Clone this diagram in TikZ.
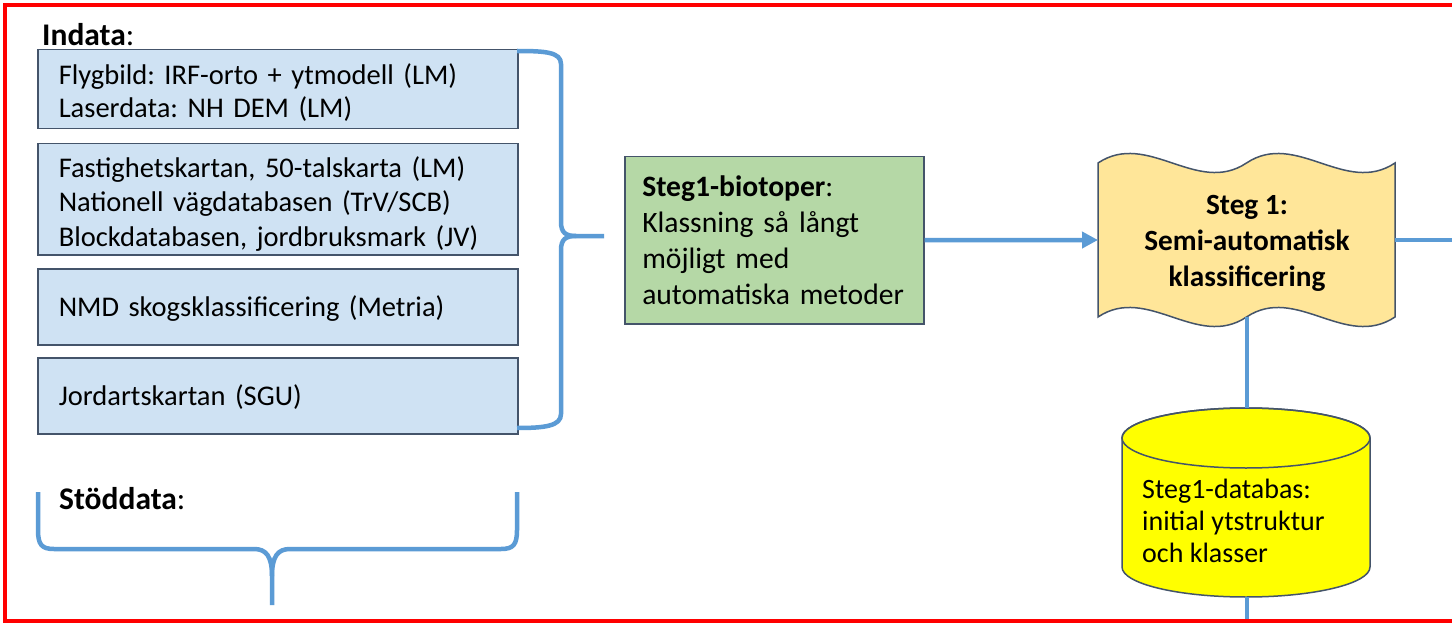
\documentclass[tikz,border=0pt]{standalone}
\usepackage{fontspec}
\setmainfont{Carlito}
\usetikzlibrary{arrows.meta}
\definecolor{bracecol}{HTML}{5B9BD5}
\definecolor{boxfill}{HTML}{CFE2F3}
\definecolor{boxline}{HTML}{44546A}
\definecolor{greenfill}{HTML}{B5D8A6}
\definecolor{wavefill}{HTML}{FFE699}
\definecolor{dbfill}{HTML}{FFFF00}
\definecolor{frame}{HTML}{FF0000}
\frenchspacing
\newcommand{\toppad}{\rule{0pt}{27pt}}
\begin{document}
\begin{tikzpicture}[x=1pt,y=-1pt,
  inbox/.style={draw=boxline, line width=1.5pt, fill=boxfill, anchor=north west,
    minimum width=480pt, text width=438pt, inner xsep=21pt, inner ysep=0pt,
    align=left, font=\fontsize{28.5}{33}\selectfont},
  conn/.style={draw=bracecol, line width=4.5pt},
  bracepath/.style={draw=bracecol, line width=4.5pt, line join=round, line cap=butt},
  label/.style={inner sep=0pt, anchor=base west, font=\fontsize{31.5}{36}\selectfont}
]
\useasboundingbox (0,0) rectangle (1452,623);
\fill[white] (0,0) rectangle (1452,623);

% Indata
\node[label] (indata) at (42,46) {\textbf{Indata}:};
\node[inbox, minimum height=79pt] (b1) at (37,49)
  {\toppad Flygbild: IRF-orto + ytmodell (LM)\\Laserdata: NH DEM (LM)};
\node[inbox, minimum height=111pt, font=\fontsize{28.5}{34.5}\selectfont] (b2) at (37,143)
  {\rule{0pt}{30pt}Fastighetskartan, 50-talskarta (LM)\\Nationell vägdatabasen (TrV/SCB)\\Blockdatabasen, jordbruksmark (JV)};
\node[inbox, minimum height=76pt] (b3) at (37,268)
  {\rule{0pt}{24pt}NMD skogsklassificering (Metria)};
\node[inbox, minimum height=76pt] (b4) at (37,357)
  {\rule{0pt}{23pt}Jordartskartan (SGU)};

% right brace
\coordinate (btip) at (604,236);
\path[bracepath] (517,51) .. controls (545,51) and (561,52) .. (561,64)
  -- (561,222) .. controls (561,233) and (566,236) .. (576,236) -- (btip);
\path[bracepath] (576,236) .. controls (566,236) and (561,239) .. (561,250)
  -- (561,414) .. controls (561,426) and (545,428) .. (517,428);

% Stoddata
\node[label] (stod) at (59,509) {\textbf{Stöddata}:};
\coordinate (stip) at (272,605);
\path[bracepath] (38,492) -- (38,530) .. controls (38,545) and (42,549) .. (54,549)
  -- (254,549) .. controls (266,549) and (272,556) .. (272,576) -- (stip);
\path[bracepath] (517,492) -- (517,530) .. controls (517,545) and (513,549) .. (501,549)
  -- (290,549) .. controls (278,549) and (272,556) .. (272,576);

% green box
\node[draw=boxline, fill=greenfill, line width=1.5pt, anchor=north west,
  minimum width=299pt, minimum height=167pt, text width=264pt, inner xsep=17.5pt,
  inner ysep=0pt, align=left, font=\fontsize{29.6}{36.3}\selectfont] (bio) at (624,156)
  {\textbf{Steg1-biotoper}:\\Klassning så långt\\möjligt med\\automatiska metoder};

% wave shape (double wave)
\filldraw[fill=wavefill, draw=boxline, line width=1.5pt, line join=miter]
  (1098,163) .. controls (1147.5,130) and (1197,196) .. (1246.5,163)
  .. controls (1296,130) and (1345.5,196) .. (1395,163)
  -- (1395,317)
  .. controls (1345.5,350) and (1296,284) .. (1246.5,317)
  .. controls (1197,350) and (1147.5,284) .. (1098,317) -- cycle;
\node[align=center, font=\bfseries\fontsize{29.3}{36}\selectfont, inner sep=0pt] (steg) at (1247,243)
  {Steg 1:\\Semi-automatisk\\klassificering};
\coordinate (wl) at (1098,240);
\coordinate (wr) at (1395,240);
\coordinate (wb) at (1247,317);
\coordinate (rout) at (1470,240);

% cylinder
\filldraw[fill=dbfill, draw=boxline, line width=1.5pt]
  (1122,438) -- (1122,567) arc[start angle=180, end angle=0, x radius=124, y radius=30]
  -- (1370,438) arc[start angle=360, end angle=180, x radius=124, y radius=30] -- cycle;
\draw[boxline, line width=1.5pt] (1246,438) ellipse [x radius=124, y radius=30];
\coordinate (dbtop) at (1247,408);
\coordinate (dbbot) at (1247,597);
\coordinate (dbout) at (1247,622);
\node[anchor=west, align=left, inner sep=0pt, font=\fontsize{28}{32}\selectfont] (db) at (1142,520.5)
  {Steg1-databas:\\initial ytstruktur\\och klasser};

% connectors
\draw[conn, -{Triangle[length=16pt,width=16pt]}] (bio.east) -- (wl);
\draw[conn] (wr) -- (rout);
\draw[conn] (wb) -- (dbtop);
\draw[conn] (dbbot) -- (dbout);

% red frame
\draw[frame, line width=4pt] (5,5) rectangle (1475,620.5);
\end{tikzpicture}
\end{document}
